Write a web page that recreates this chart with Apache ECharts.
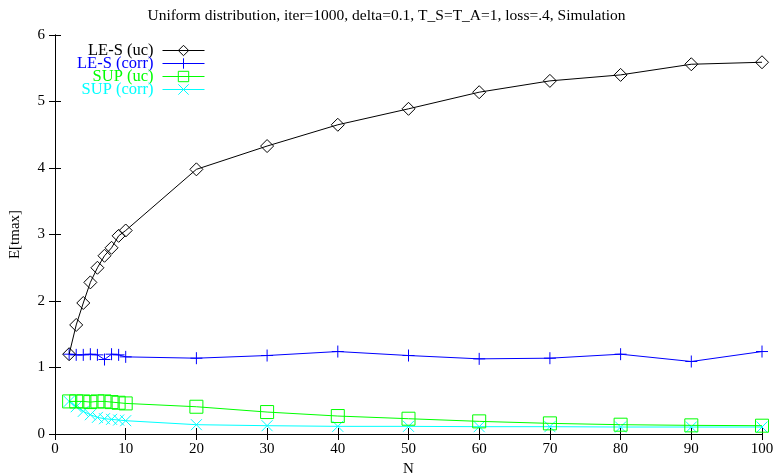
<!DOCTYPE html>
<html>
<head>
<meta charset="utf-8">
<script src="https://cdn.jsdelivr.net/npm/echarts@6/dist/echarts.min.js"></script>
<style>
  html, body { margin: 0; padding: 0; background: #fff; }
  #main { width: 773px; height: 475px; }
</style>
</head>
<body>
<div id="main"></div>
<script>
// N values and the four curves
const nVals = [2, 3, 4, 5, 6, 7, 8, 9, 10, 20, 30, 40, 50, 60, 70, 80, 90, 100];
const lesUc = [1.2, 1.64, 1.97, 2.28, 2.5, 2.68, 2.8, 2.98, 3.06, 3.98, 4.33, 4.65, 4.89, 5.14, 5.31, 5.4, 5.56, 5.59];
const lesCorr = [1.2, 1.19, 1.19, 1.2, 1.19, 1.12, 1.2, 1.19, 1.16, 1.14, 1.18, 1.24, 1.18, 1.13, 1.14, 1.2, 1.09, 1.24];
const supUc = [0.49, 0.49, 0.49, 0.48, 0.49, 0.49, 0.48, 0.47, 0.46, 0.41, 0.33, 0.27, 0.23, 0.19, 0.16, 0.14, 0.13, 0.125];
const supCorr = [0.49, 0.41, 0.34, 0.29, 0.25, 0.23, 0.22, 0.21, 0.2, 0.14, 0.125, 0.115, 0.115, 0.11, 0.11, 0.105, 0.105, 0.105];

const seriesNames = ['LE-S (uc)', 'LE-S (corr)', 'SUP (uc)', 'SUP (corr)'];
const seriesColors = ['#000000', '#0000ff', '#00ff00', '#00ffff'];

// gnuplot style point shapes, drawn as outlines only
const diamondPath = 'path://M5,0 L10,5 L5,10 L0,5 Z';
const plusPath = 'path://M5,0 L5,10 M0,5 L10,5';
const boxPath = 'path://M0,0 L10,0 L10,10 L0,10 Z';
const crossPath = 'path://M0,0 L10,10 M10,0 L0,10';

function pairs(ys) {
  return nVals.map(function (n, i) { return [n, ys[i]]; });
}

const font = 'Liberation Serif';
const chart = echarts.init(document.getElementById('main'), null, { renderer: 'canvas' });

function mkSeries(idx, ys, symbol, size) {
  const c = seriesColors[idx];
  return {
    name: seriesNames[idx],
    type: 'line',
    data: pairs(ys),
    symbol: symbol,
    symbolSize: size,
    showAllSymbol: true,
    lineStyle: { color: c, width: 1 },
    itemStyle: { color: 'none', borderColor: c, borderWidth: 1 },
    emphasis: { disabled: true },
    z: 10 - idx
  };
}

// one legend per entry so the keys line up on the right like gnuplot
const legends = seriesNames.map(function (name, i) {
  const c = seriesColors[i];
  return {
    data: [{ name: name, textStyle: { color: c } }],
    right: 568,
    top: 42 + i * 13,
    align: 'right',
    itemWidth: 42,
    itemHeight: 13,
    padding: 0,
    selectedMode: false,
    itemStyle: { color: 'none', borderColor: c, borderWidth: 1 },
    lineStyle: { color: c, width: 1 },
    textStyle: { fontFamily: font, fontSize: 16.5, padding: [0, 4, 0, 0] }
  };
});

const option = {
  backgroundColor: '#ffffff',
  animation: false,
  title: {
    text: 'Uniform distribution, iter=1000, delta=0.1, T_S=T_A=1, loss=.4, Simulation',
    left: 'center',
    top: 3,
    textStyle: { fontFamily: font, fontSize: 15.5, fontWeight: 'normal', color: '#000' }
  },
  legend: legends,
  grid: { left: 55, right: 11, top: 35, bottom: 41, containLabel: false, outerBoundsMode: 'none' },
  xAxis: [{
    type: 'value',
    min: 0, max: 100, interval: 10,
    name: 'N',
    nameLocation: 'middle',
    nameGap: 26,
    nameTextStyle: { fontFamily: font, fontSize: 15, color: '#000' },
    axisLine: { lineStyle: { color: '#000', width: 1 } },
    axisTick: { inside: true, length: 6, lineStyle: { color: '#000' } },
    axisLabel: { fontFamily: font, fontSize: 15, color: '#000', margin: 8 },
    splitLine: { show: false }
  }, {
    type: 'value',
    position: 'top',
    min: 0, max: 100, interval: 10,
    axisLine: { lineStyle: { color: '#000', width: 1 } },
    axisTick: { inside: true, length: 6, lineStyle: { color: '#000' } },
    axisLabel: { show: false },
    splitLine: { show: false }
  }],
  yAxis: [{
    type: 'value',
    min: 0, max: 6, interval: 1,
    name: 'E[tmax]',
    nameLocation: 'middle',
    nameGap: 32,
    nameTextStyle: { fontFamily: font, fontSize: 15, color: '#000' },
    axisLine: { show: true, lineStyle: { color: '#000', width: 1 } },
    axisTick: { show: true, inside: true, length: 6, lineStyle: { color: '#000' } },
    axisLabel: { fontFamily: font, fontSize: 15, color: '#000', margin: 10 },
    splitLine: { show: false }
  }, {
    type: 'value',
    position: 'right',
    min: 0, max: 6, interval: 1,
    axisLine: { show: true, lineStyle: { color: '#000', width: 1 } },
    axisTick: { show: true, inside: true, length: 6, lineStyle: { color: '#000' } },
    axisLabel: { show: false },
    splitLine: { show: false }
  }],
  series: [
    mkSeries(0, lesUc, diamondPath, 13),
    mkSeries(1, lesCorr, plusPath, 12),
    mkSeries(2, supUc, boxPath, 13),
    mkSeries(3, supCorr, crossPath, 11)
  ]
};

chart.setOption(option);
</script>
</body>
</html>
